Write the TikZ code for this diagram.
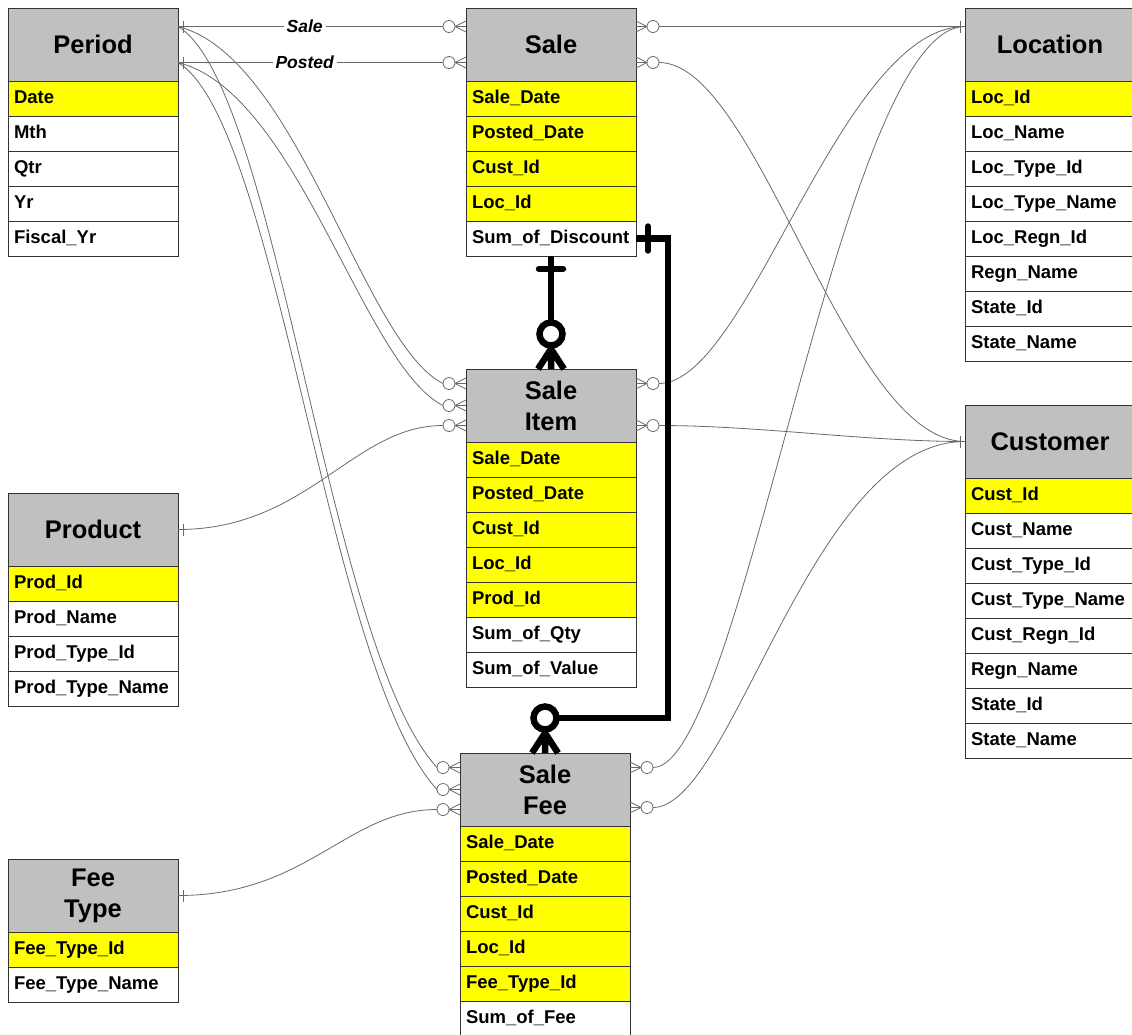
\documentclass[tikz,border=0pt]{standalone}
\usepackage{fontspec}
\setmainfont{Liberation Sans}
\usetikzlibrary{positioning}

\definecolor{hdrgray}{RGB}{192,192,192}
\definecolor{keyyellow}{RGB}{255,255,0}
\definecolor{relgray}{RGB}{105,105,105}

\tikzset{
  box/.style={draw=black!80, line width=0.8pt, minimum width=170pt, inner xsep=6pt, inner ysep=0pt,
    outer sep=0pt},
  hdr/.style={box, fill=hdrgray, minimum height=73pt, align=center,
    font=\bfseries\fontsize{25.5}{31}\selectfont},
  keyrow/.style={box, fill=keyyellow, minimum height=35pt, text width=158pt, align=left,
    text height=14pt, text depth=3.5pt, font=\bfseries\fontsize{18.5}{20}\selectfont},
  attrow/.style={keyrow, fill=white},
  rel/.style={draw=relgray, line width=0.8pt},
  thickrel/.style={draw=black, line width=6.5pt},
  rellabel/.style={fill=white, inner sep=3pt, font=\bfseries\itshape\fontsize{17.5}{20}\selectfont},
  crowfoot/.pic={
    \draw[rel] (0,-5.5) -- (-11,0) -- (0,5.5);
    \draw[rel, fill=white] (-17,0) circle (6pt);
  },
  onebar/.pic={\draw[rel] (5,-6) -- (5,6);},
  thickcrow/.pic={
    \draw[thickrel] (0,-20) -- (-13,0) (0,-20) -- (13,0) (0,-20) -- (0,0);
    \draw[thickrel, fill=white] (0,-35) circle (11.5pt);
  }
}

% entity: name, top left corner, header, rows
\newcommand\erentity[4]{%
  \node[hdr, anchor=north west, alias=#1] (#1-0) at #2 {#3};
  \foreach \kind/\txt [count=\i, remember=\i as \j (initially 0)] in {#4}
    \node[style=\kind, below=0pt of #1-\j] (#1-\i) {\txt};
}

\begin{document}
\begin{tikzpicture}[x=1pt,y=-1pt]
\useasboundingbox (0,0) rectangle (1132,1034);

% tables
\erentity{period}{(8,8)}{Period}{keyrow/Date, attrow/Mth, attrow/Qtr, attrow/Yr, attrow/Fiscal\_Yr}
\erentity{sale}{(466,8)}{Sale}{keyrow/Sale\_Date, keyrow/Posted\_Date, keyrow/Cust\_Id, keyrow/Loc\_Id,
  attrow/Sum\_of\_Discount}
\erentity{location}{(965,8)}{Location}{keyrow/Loc\_Id, attrow/Loc\_Name, attrow/Loc\_Type\_Id,
  attrow/Loc\_Type\_Name, attrow/Loc\_Regn\_Id, attrow/Regn\_Name, attrow/State\_Id, attrow/State\_Name}
\erentity{saleitem}{(466,369)}{Sale\\Item}{keyrow/Sale\_Date, keyrow/Posted\_Date, keyrow/Cust\_Id,
  keyrow/Loc\_Id, keyrow/Prod\_Id, attrow/Sum\_of\_Qty, attrow/Sum\_of\_Value}
\erentity{customer}{(965,405)}{Customer}{keyrow/Cust\_Id, attrow/Cust\_Name, attrow/Cust\_Type\_Id,
  attrow/Cust\_Type\_Name, attrow/Cust\_Regn\_Id, attrow/Regn\_Name, attrow/State\_Id, attrow/State\_Name}
\erentity{product}{(8,493)}{Product}{keyrow/Prod\_Id, attrow/Prod\_Name, attrow/Prod\_Type\_Id,
  attrow/Prod\_Type\_Name}
\erentity{salefee}{(460,753)}{Sale\\Fee}{keyrow/Sale\_Date, keyrow/Posted\_Date, keyrow/Cust\_Id,
  keyrow/Loc\_Id, keyrow/Fee\_Type\_Id, attrow/Sum\_of\_Fee}
\erentity{feetype}{(8,859)}{Fee\\Type}{keyrow/Fee\_Type\_Id, attrow/Fee\_Type\_Name}

% thin relationships
\draw[rel] ([yshift=18pt]period.east) -- node[rellabel, pos=.44] {Sale} ([yshift=18pt]sale.west);
\draw[rel] ([yshift=-18pt]period.east) -- node[rellabel, pos=.44] {Posted} ([yshift=-18pt]sale.west);
\draw[rel] ([yshift=18pt]period.east) .. controls +(120,30) and +(-80,-40) ..
  ([xshift=-23pt, yshift=22pt]saleitem.west) -- ([yshift=22pt]saleitem.west);
\draw[rel] ([yshift=-18pt]period.east) .. controls +(120,30) and +(-80,-40) ..
  ([xshift=-23pt]saleitem.west) -- (saleitem.west);
\draw[rel] ([yshift=18pt]period.east) .. controls +(100,60) and +(-110,-120) ..
  ([xshift=-23pt, yshift=22pt]salefee.west) -- ([yshift=22pt]salefee.west);
\draw[rel] ([yshift=-18pt]period.east) .. controls +(100,60) and +(-110,-120) ..
  ([xshift=-23pt]salefee.west) -- (salefee.west);
\draw[rel] (product.east) .. controls +(130,0) and +(-90,0) ..
  ([xshift=-23pt, yshift=-20pt]saleitem.west) -- ([yshift=-20pt]saleitem.west);
\draw[rel] (feetype.east) .. controls +(130,0) and +(-90,0) ..
  ([xshift=-23pt, yshift=-20pt]salefee.west) -- ([yshift=-20pt]salefee.west);

\draw[rel] ([yshift=18pt]sale.east) -- ([yshift=18pt]location.west);
\draw[rel] ([yshift=-18pt]sale.east) -- ++(23,0) .. controls +(100,0) and +(-120,0) .. (customer.west);
\draw[rel] ([yshift=22pt]saleitem.east) -- ++(23,0) .. controls +(90,0) and +(-125,0) ..
  ([yshift=18pt]location.west);
\draw[rel] ([yshift=-20pt]saleitem.east) -- ++(23,0) .. controls +(100,0) and +(-100,0) .. (customer.west);
\draw[rel] ([yshift=22pt]salefee.east) -- ++(23,0) .. controls +(90,0) and +(-125,0) ..
  ([yshift=18pt]location.west);
\draw[rel] ([yshift=-18pt]salefee.east) -- ++(23,0) .. controls +(80,0) and +(-155,0) .. (customer.west);

% ends
\foreach \n/\s in {period/18, period/-18, product/0, feetype/0}
  \pic at ([yshift=\s pt]\n.east) {onebar};
\foreach \n/\s in {location/18, customer/0}
  \pic[xscale=-1] at ([yshift=\s pt]\n.west) {onebar};
\foreach \n/\s in {sale/18, sale/-18, saleitem/22, saleitem/0, saleitem/-20,
                   salefee/22, salefee/0, salefee/-20}
  \pic at ([yshift=\s pt]\n.west) {crowfoot};
\foreach \n/\s in {sale/18, sale/-18, saleitem/22, saleitem/-20, salefee/22, salefee/-18}
  \pic[xscale=-1] at ([yshift=\s pt]\n.east) {crowfoot};

% thick relationships
\draw[thickrel] (sale-5.south) -- (saleitem.north);
\draw[thickrel, line cap=round] ([yshift=-13pt]sale-5.south) ++(-12,0) -- ++(24,0);
\pic at (saleitem.north) {thickcrow};
\draw[thickrel] (sale-5.east) -- ++(32,0) |- ([yshift=35pt]salefee.north) -- (salefee.north);
\draw[thickrel, line cap=round] ([xshift=12pt]sale-5.east) ++(0,-12) -- ++(0,24);
\pic at (salefee.north) {thickcrow};
\end{tikzpicture}
\end{document}
